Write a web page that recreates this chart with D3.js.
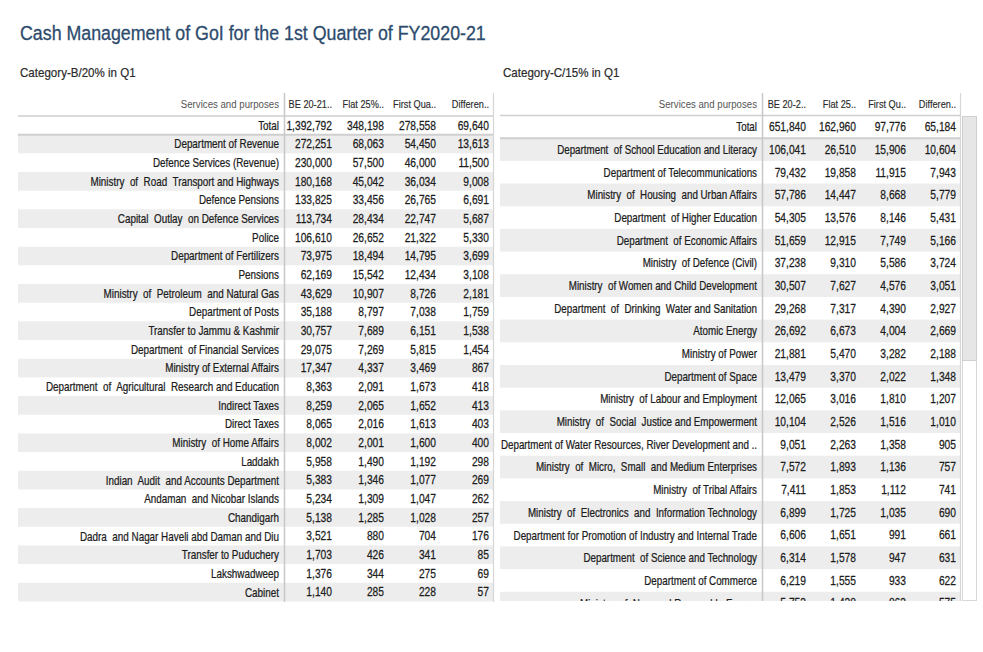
<!DOCTYPE html>
<html>
<head>
<meta charset="utf-8">
<script src="https://cdn.jsdelivr.net/npm/d3@7"></script>
<style>
  html, body { margin: 0; padding: 0; background: #fff; }
  svg { display: block; }
  text { font-family: "Liberation Sans", Arial, sans-serif; }
</style>
</head>
<body>
<svg id="chart" width="983" height="652"></svg>
<script>
// ---------------- DATA ----------------
const titleText = "Cash Management of GoI for the 1st Quarter of FY2020-21";

const leftSubtitle = "Category-B/20% in Q1";
const leftHeaders = ["BE 20-21..", "Flat 25%..", "First Qua..", "Differen.."];
const leftTotal = [1392792, 348198, 278558, 69640];
const leftCategories = [
  "Department of Revenue", "Defence Services (Revenue)", "Ministry  of  Road  Transport and Highways",
  "Defence Pensions", "Capital  Outlay  on Defence Services", "Police", "Department of Fertilizers",
  "Pensions", "Ministry  of  Petroleum  and Natural Gas", "Department of Posts",
  "Transfer to Jammu & Kashmir", "Department  of Financial Services", "Ministry of External Affairs",
  "Department  of  Agricultural  Research and Education", "Indirect Taxes", "Direct Taxes",
  "Ministry  of Home Affairs", "Laddakh", "Indian  Audit  and Accounts Department",
  "Andaman  and Nicobar Islands", "Chandigarh", "Dadra  and Nagar Haveli abd Daman and Diu",
  "Transfer to Puduchery", "Lakshwadweep", "Cabinet"
];
const leftBE = [272251, 230000, 180168, 133825, 113734, 106610, 73975, 62169, 43629, 35188, 30757, 29075, 17347, 8363, 8259, 8065, 8002, 5958, 5383, 5234, 5138, 3521, 1703, 1376, 1140];
const leftFlat = [68063, 57500, 45042, 33456, 28434, 26652, 18494, 15542, 10907, 8797, 7689, 7269, 4337, 2091, 2065, 2016, 2001, 1490, 1346, 1309, 1285, 880, 426, 344, 285];
const leftFirst = [54450, 46000, 36034, 26765, 22747, 21322, 14795, 12434, 8726, 7038, 6151, 5815, 3469, 1673, 1652, 1613, 1600, 1192, 1077, 1047, 1028, 704, 341, 275, 228];
const leftDiff = [13613, 11500, 9008, 6691, 5687, 5330, 3699, 3108, 2181, 1759, 1538, 1454, 867, 418, 413, 403, 400, 298, 269, 262, 257, 176, 85, 69, 57];

const rightSubtitle = "Category-C/15% in Q1";
const rightHeaders = ["BE 20-2..", "Flat 25..", "First Qu..", "Differen.."];
const rightTotal = [651840, 162960, 97776, 65184];
const rightCategories = [
  "Department  of School Education and Literacy", "Department of Telecommunications",
  "Ministry  of  Housing  and Urban Affairs", "Department  of Higher Education",
  "Department  of Economic Affairs", "Ministry  of Defence (Civil)",
  "Ministry  of Women and Child Development", "Department  of  Drinking  Water and Sanitation",
  "Atomic Energy", "Ministry of Power", "Department of Space", "Ministry  of Labour and Employment",
  "Ministry  of  Social  Justice and Empowerment", "Department of Water Resources, River Development and ..",
  "Ministry  of  Micro,  Small  and Medium Enterprises", "Ministry  of Tribal Affairs",
  "Ministry  of  Electronics  and  Information Technology", "Department for Promotion of Industry and Internal Trade",
  "Department  of Science and Technology", "Department of Commerce", "Ministry  of  New and Renewable Energy"
];
const rightBE = [106041, 79432, 57786, 54305, 51659, 37238, 30507, 29268, 26692, 21881, 13479, 12065, 10104, 9051, 7572, 7411, 6899, 6606, 6314, 6219, 5753];
const rightFlat = [26510, 19858, 14447, 13576, 12915, 9310, 7627, 7317, 6673, 5470, 3370, 3016, 2526, 2263, 1893, 1853, 1725, 1651, 1578, 1555, 1438];
const rightFirst = [15906, 11915, 8668, 8146, 7749, 5586, 4576, 4390, 4004, 3282, 2022, 1810, 1516, 1358, 1136, 1112, 1035, 991, 947, 933, 863];
const rightDiff = [10604, 7943, 5779, 5431, 5166, 3724, 3051, 2927, 2669, 2188, 1348, 1207, 1010, 905, 757, 741, 690, 661, 631, 622, 575];

// ---------------- DRAW ----------------
const svg = d3.select("#chart");
const fmt = d3.format(",");
const ink = "#1c1c1c";

// condensed text helper (Calibri-like width using a horizontal squeeze)
function ctext(sel, x, y, sx) {
  return sel.attr("x", 0).attr("y", 0)
    .attr("transform", `translate(${x},${y}) scale(${sx},1)`);
}

ctext(svg.append("text"), 20, 40, 0.89)
  .attr("font-size", 20)
  .attr("fill", "#2d4b6d")
  .attr("stroke", "#2d4b6d").attr("stroke-width", 0.3)
  .text(titleText);

function drawTable(cfg) {
  const g = svg.append("g");
  const clipId = "clip" + cfg.id;
  svg.append("clipPath").attr("id", clipId)
    .append("rect").attr("x", 0).attr("y", 0).attr("width", 983).attr("height", cfg.clipBottom);
  const body = g.append("g").attr("clip-path", `url(#${clipId})`);

  ctext(g.append("text"), cfg.subX, 77, 0.89)
    .attr("font-size", 13).attr("fill", "#2a2a2a")
    .attr("stroke", "#2a2a2a").attr("stroke-width", 0.2)
    .text(cfg.subtitle);

  const rowsDomain = ["__total__", ...cfg.categories];
  const y = d3.scaleBand()
    .domain(rowsDomain)
    .range([cfg.headerBottom, cfg.headerBottom + cfg.rowH * rowsDomain.length])
    .paddingInner(0).paddingOuter(0);

  const colKeys = [0, 1, 2, 3];
  const x = d3.scaleOrdinal().domain(colKeys).range(cfg.colRight);

  // banding
  body.selectAll("rect.band")
    .data(cfg.categories.filter((d, i) => i % 2 === 0))
    .join("rect").attr("class", "band")
    .attr("x", cfg.x0).attr("width", cfg.x1 - cfg.x0)
    .attr("y", d => y(d)).attr("height", y.bandwidth())
    .attr("fill", "#ededed");

  // header
  ctext(g.append("text"), cfg.labelRight, cfg.headerY, 0.84)
    .attr("text-anchor", "end").attr("dominant-baseline", "central")
    .attr("font-size", 11.5).attr("fill", "#555")
    .text("Services and purposes");
  g.selectAll("text.hdr").data(cfg.headers).join("text").attr("class", "hdr")
    .each(function(d, i) { ctext(d3.select(this), x(i), cfg.headerY, 0.8); })
    .attr("text-anchor", "end").attr("dominant-baseline", "central")
    .attr("font-size", 11.5).attr("fill", "#2a2a2a")
    .attr("stroke", "#2a2a2a").attr("stroke-width", 0.15)
    .text(d => d);

  // lines
  g.append("line")
    .attr("x1", cfg.x0).attr("x2", cfg.x1)
    .attr("y1", cfg.headerBottom).attr("y2", cfg.headerBottom)
    .attr("stroke", "#cfcfcf").attr("stroke-width", 1.5);
  g.append("line")
    .attr("x1", cfg.x0).attr("x2", cfg.x1)
    .attr("y1", y(cfg.categories[0])).attr("y2", y(cfg.categories[0]))
    .attr("stroke", "#cfcfcf").attr("stroke-width", 2);

  // rows
  const rows = [{name: "Total", key: "__total__", vals: cfg.total}]
    .concat(cfg.categories.map((c, i) => ({
      name: c, key: c, vals: [cfg.be[i], cfg.flat[i], cfg.first[i], cfg.diff[i]]
    })));

  const rg = body.selectAll("g.row").data(rows).join("g").attr("class", "row")
    .attr("transform", d => `translate(0,${y(d.key) + y.bandwidth() / 2})`);
  ctext(rg.append("text"), cfg.labelRight, 0, cfg.labelScale)
    .attr("text-anchor", "end").attr("dominant-baseline", "central")
    .attr("font-size", cfg.fontSize).attr("fill", ink)
    .attr("stroke", ink).attr("stroke-width", 0.25)
    .attr("xml:space", "preserve")
    .text(d => d.name);
  rg.selectAll("text.val").data(d => d.vals).join("text").attr("class", "val")
    .each(function(d, i) { ctext(d3.select(this), x(i), 0, 0.82); })
    .attr("text-anchor", "end").attr("dominant-baseline", "central")
    .attr("font-size", cfg.fontSize).attr("fill", ink)
    .attr("stroke", ink).attr("stroke-width", 0.25)
    .text(d => fmt(d));

  // vertical lines
  g.append("line")
    .attr("x1", cfg.divX).attr("x2", cfg.divX)
    .attr("y1", 93).attr("y2", cfg.clipBottom)
    .attr("stroke", "#c8c8c8").attr("stroke-width", 1.5);
  g.append("line")
    .attr("x1", cfg.x1 + 0.5).attr("x2", cfg.x1 + 0.5)
    .attr("y1", 93).attr("y2", cfg.clipBottom)
    .attr("stroke", "#d6d6d6").attr("stroke-width", 1.2);
}

drawTable({
  id: "L", subtitle: leftSubtitle, subX: 20,
  categories: leftCategories, total: leftTotal,
  be: leftBE, flat: leftFlat, first: leftFirst, diff: leftDiff,
  headers: leftHeaders,
  x0: 18, x1: 493, labelRight: 279, divX: 284.5,
  colRight: [332, 384, 436, 489],
  headerY: 104, headerBottom: 116, rowH: 18.67, clipBottom: 602,
  fontSize: 12.5, labelScale: 0.79
});

drawTable({
  id: "R", subtitle: rightSubtitle, subX: 503,
  categories: rightCategories, total: rightTotal,
  be: rightBE, flat: rightFlat, first: rightFirst, diff: rightDiff,
  headers: rightHeaders,
  x0: 500, x1: 960, labelRight: 757, divX: 762.5,
  colRight: [806, 856, 906, 956],
  headerY: 104, headerBottom: 115.5, rowH: 22.68, clipBottom: 601,
  fontSize: 12.5, labelScale: 0.785
});

// scrollbar of right table
svg.append("rect")
  .attr("x", 962.5).attr("y", 116.5).attr("width", 14).attr("height", 484)
  .attr("fill", "#fff").attr("stroke", "#d8d8d8");
svg.append("rect")
  .attr("x", 962.5).attr("y", 116.5).attr("width", 14).attr("height", 244)
  .attr("fill", "#e6e6e6").attr("stroke", "#cfcfcf");
</script>
</body>
</html>
